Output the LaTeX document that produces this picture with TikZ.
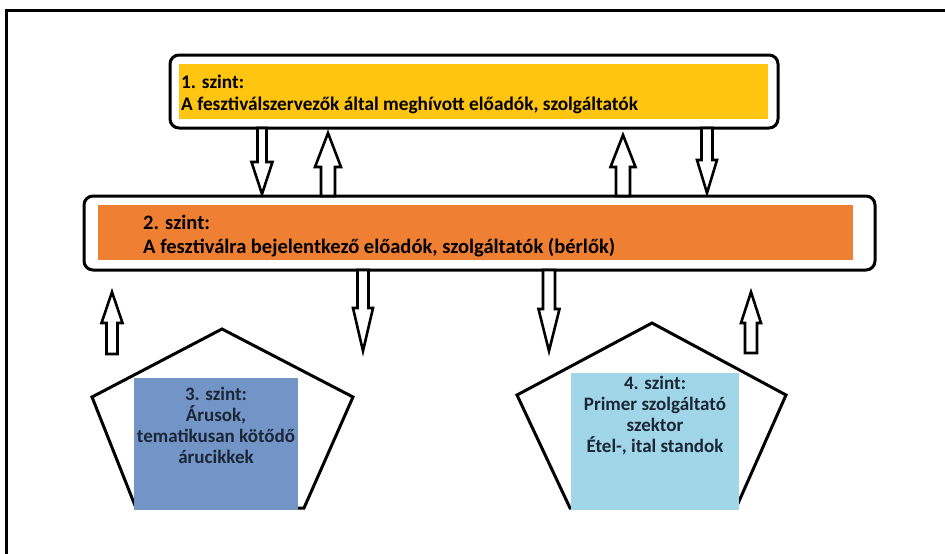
\documentclass[tikz,border=0pt]{standalone}
\usepackage{fontspec}
\setmainfont{Carlito}
\definecolor{lvlyellow}{HTML}{FFC511}
\definecolor{lvlorange}{HTML}{EE7F33}
\definecolor{lvlblue}{HTML}{7294C6}
\definecolor{lvlcyan}{HTML}{A0D6E7}
\definecolor{darktext}{HTML}{1B2636}

% hollow block arrow: x, y of tail, y of tip, half shaft, half head, y where head starts
\newcommand{\blockarr}[6]{%
\draw[barrow] (#1-#4,#2) -- (#1-#4,#6) -- (#1-#5,#6) -- (#1,#3) -- (#1+#5,#6) -- (#1+#4,#6) -- (#1+#4,#2) -- cycle;}

\tikzset{
 barrow/.style={line width=2.6pt, fill=white, line join=miter},
 frame/.style={line width=3pt, rounded corners=9pt},
 levtext/.style={align=left, anchor=west, inner sep=0pt},
 pentext/.style={font=\bfseries\fontsize{19}{21}\selectfont, align=center, text=darktext, inner sep=0pt},
 penta/.style={line width=3pt, line join=miter}
}

\begin{document}
\begin{tikzpicture}[x=1pt,y=-1pt]
\useasboundingbox (0,0) rectangle (945,554);

\draw[line width=3pt] (945,10) -- (6,10) -- (6,554);

% level 1
\node (lvlone) [fill=lvlyellow, minimum width=589, minimum height=55, anchor=north west, inner sep=0pt] at (179,64) {};
\draw[frame] (170,55) rectangle (778,128);
\node (onetext) [levtext, font=\bfseries\fontsize{19.3}{22}\selectfont] at (181,94) {1. szint:\\A fesztiválszervezők által meghívott előadók, szolgáltatók};

% level 2
\node (lvltwo) [fill=lvlorange, minimum width=755, minimum height=55, anchor=north west, inner sep=0pt] at (98,205) {};
\draw[frame] (84,196) rectangle (875,270);
\node (twotext) [levtext, font=\bfseries\fontsize{20.5}{24}\selectfont] at (143,236) {2. szint:\\A fesztiválra bejelentkező előadók, szolgáltatók (bérlők)};

% arrows between level 1 and 2
\blockarr{262}{128}{194}{4.5}{10.5}{162}
\blockarr{328}{196}{133}{7}{13}{167}
\blockarr{623}{196}{135}{7}{12.5}{167}
\blockarr{707}{128}{193}{5.5}{10}{160}

% arrows below level 2
\blockarr{112}{354}{292}{5.5}{10.5}{323}
\blockarr{363}{270}{351}{5.5}{10}{308}
\blockarr{549}{270}{351}{6}{10.5}{309}
\blockarr{751}{353}{292}{6}{10}{323}

% level 3
\draw[penta] (222,329) -- (353,397) -- (304,508) -- (136,508) -- (92,397) -- cycle;
\node (lvlthree) [fill=lvlblue, minimum width=164, minimum height=132, anchor=north west, inner sep=0pt] at (134,378) {};
\node (threetext) [pentext] at (216,425) {3. szint:\\Árusok,\\tematikusan kötődő\\árucikkek};

% level 4
\draw[penta] (652,323) -- (786,395) -- (736,508) -- (570,508) -- (517,395) -- cycle;
\node (lvlfour) [fill=lvlcyan, minimum width=168, minimum height=137, anchor=north west, inner sep=0pt] at (571,373) {};
\node (fourtext) [pentext] at (655,416) {4. szint:\\Primer szolgáltató\\szektor\\Étel-, ital standok};

\end{tikzpicture}
\end{document}
